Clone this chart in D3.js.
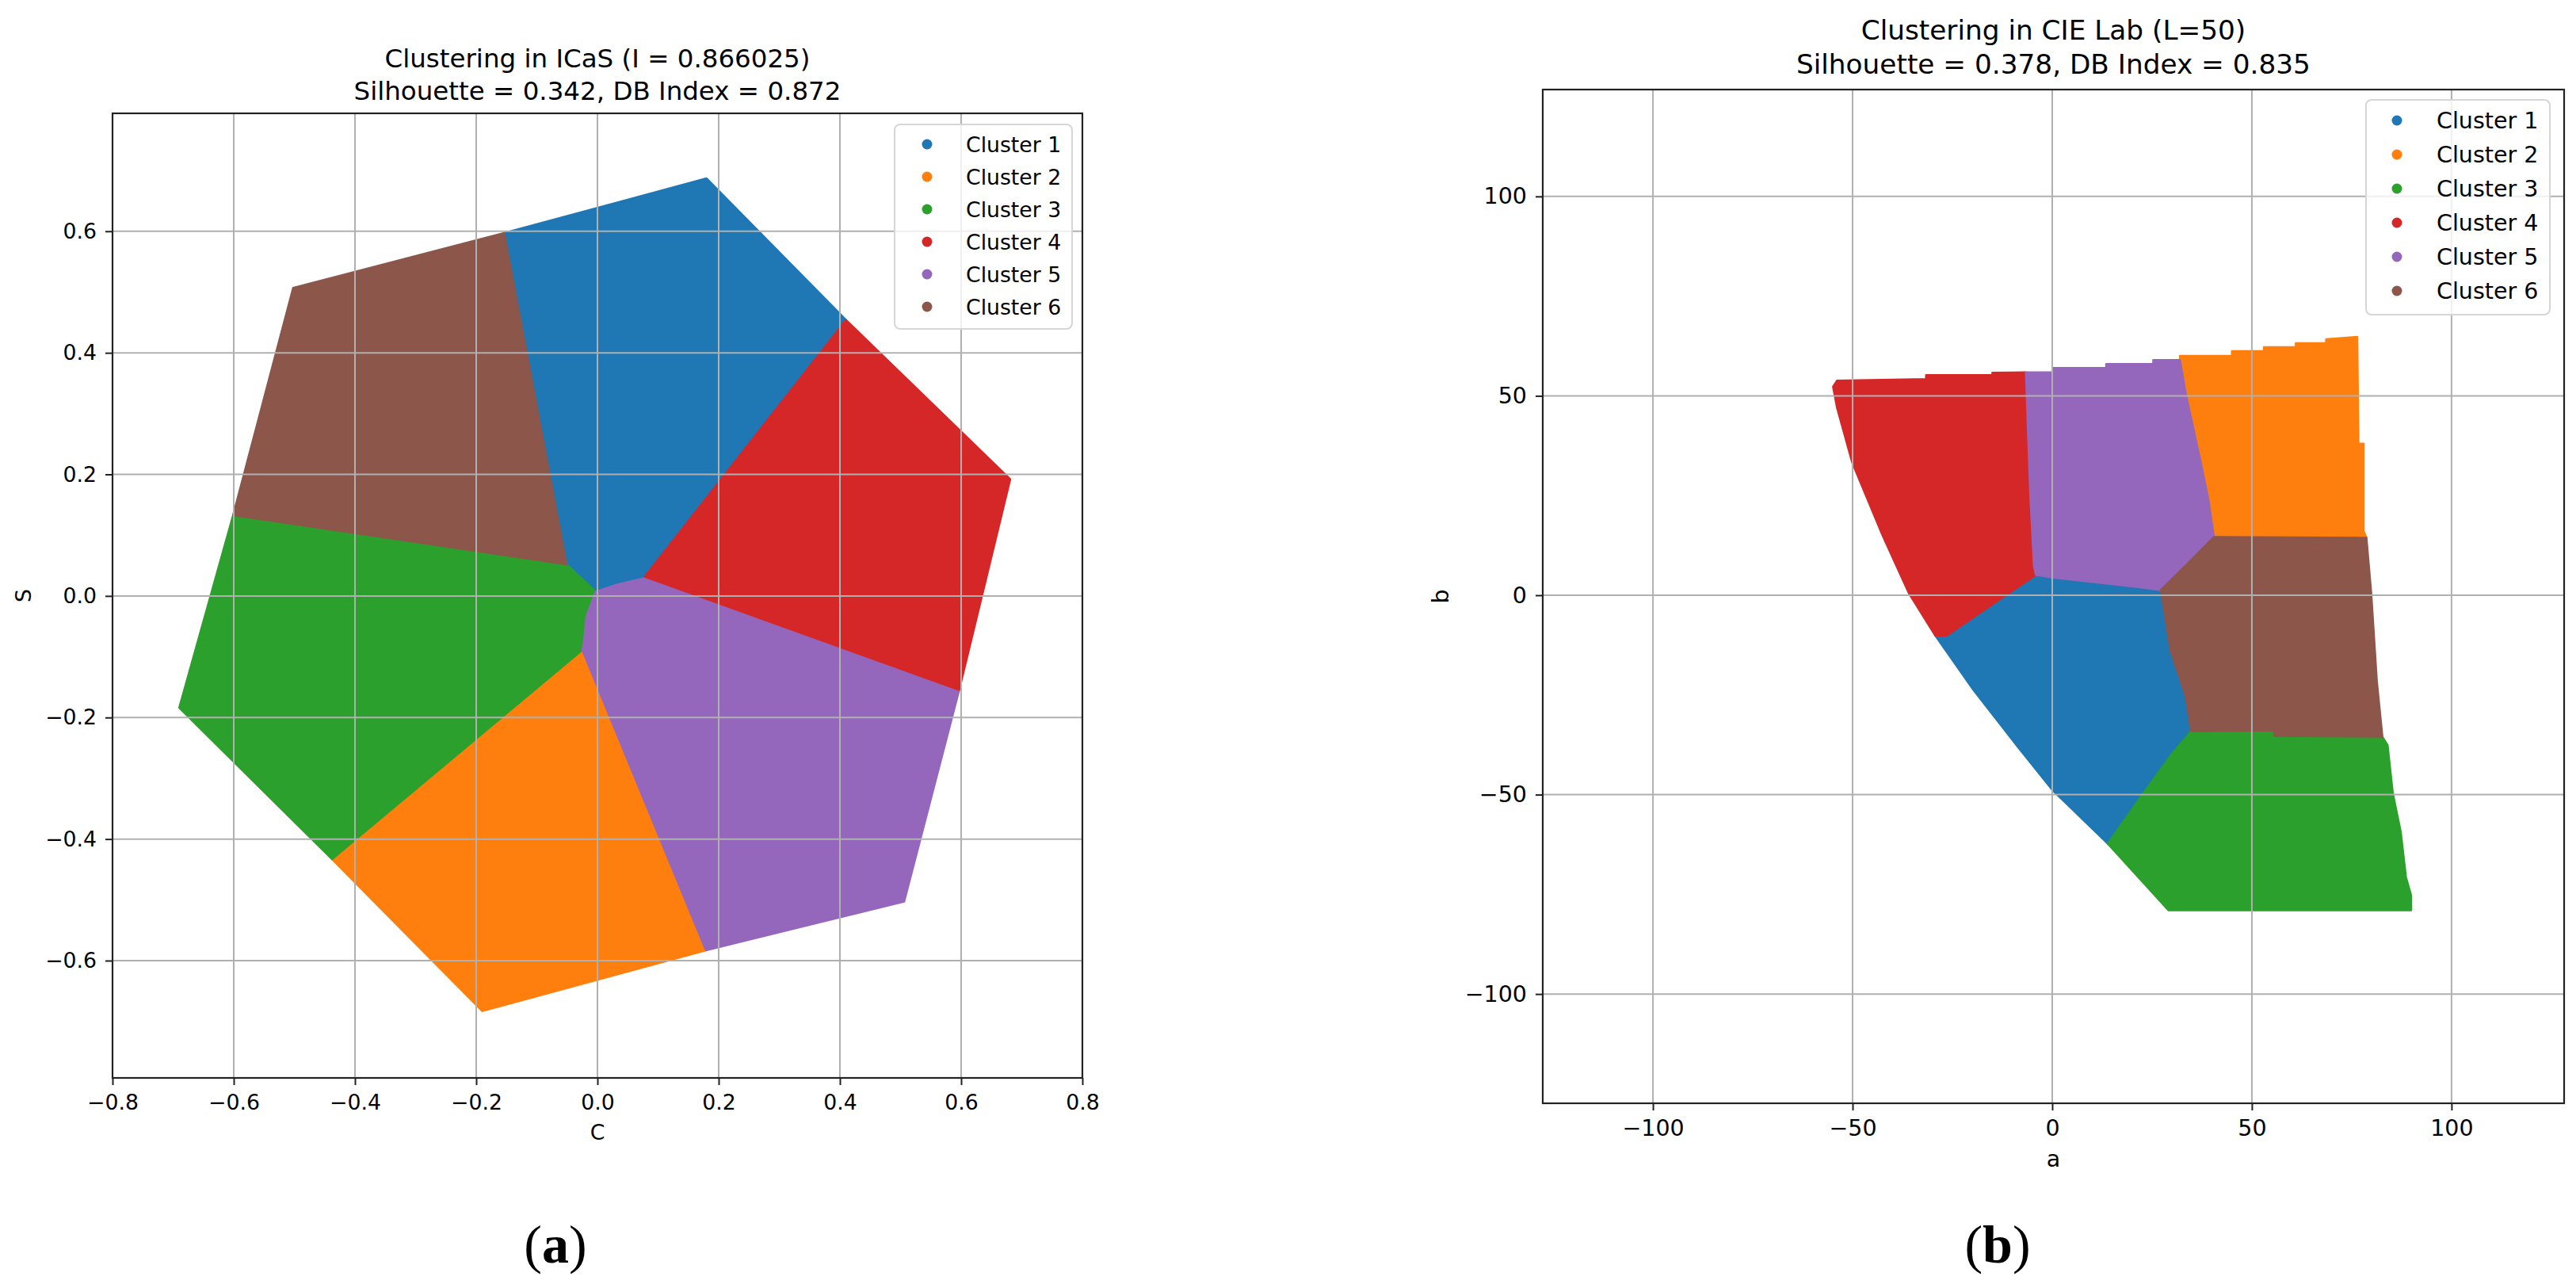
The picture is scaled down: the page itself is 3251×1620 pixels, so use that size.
<!DOCTYPE html>
<html>
<head>
<meta charset="utf-8">
<script src="https://cdn.jsdelivr.net/npm/d3@7"></script>
<style>
  body { margin: 0; background: #fff; }
  svg text { font-family: "DejaVu Sans", sans-serif; fill: #000; }
</style>
</head>
<body>
<svg id="fig" width="3251" height="1620"></svg>
<script>
// Legend / colours (matplotlib tab10)
const clusterNames = ["Cluster 1", "Cluster 2", "Cluster 3", "Cluster 4", "Cluster 5", "Cluster 6"];
const clusterColors = ["#1f77b4", "#ff7f0e", "#2ca02c", "#d62728", "#9467bd", "#8c564b"];

// (a) ICaS plane, cluster regions as [C, S] outlines
const icasCluster1 = [[0.180, 0.687], [0.410, 0.454], [0.076, 0.029], [0.030, 0.018], [-0.003, 0.007], [-0.051, 0.052], [-0.154, 0.597]];
const icasCluster2 = [[-0.025, -0.089], [0.179, -0.583], [-0.190, -0.683], [-0.438, -0.433]];
const icasCluster3 = [[-0.051, 0.052], [-0.003, 0.007], [-0.018, -0.033], [-0.022, -0.072], [-0.025, -0.089], [-0.438, -0.433], [-0.690, -0.184], [-0.601, 0.133]];
const icasCluster4 = [[0.076, 0.029], [0.410, 0.454], [0.681, 0.192], [0.596, -0.158]];
const icasCluster5 = [[-0.003, 0.007], [0.030, 0.018], [0.076, 0.029], [0.596, -0.158], [0.506, -0.503], [0.179, -0.583], [-0.025, -0.089], [-0.022, -0.072], [-0.018, -0.033]];
const icasCluster6 = [[-0.154, 0.597], [-0.051, 0.052], [-0.601, 0.133], [-0.502, 0.507]];
const icasXTicks = [-0.8, -0.6, -0.4, -0.2, 0, 0.2, 0.4, 0.6, 0.8];
const icasYTicks = [-0.6, -0.4, -0.2, 0, 0.2, 0.4, 0.6];

// (b) CIE Lab plane at L=50, cluster regions as [a, b] outlines
const labCluster1 = [[-4.1, 5.1], [0.2, 4.4], [21.1, 2.1], [27.2, 1.3], [29.6, -13.9], [33.4, -25.3], [34.8, -34.1], [30.1, -39.6], [22.5, -50.1], [13.9, -62.3], [0.0, -48.8], [-8.4, -38.3], [-19.7, -23.8], [-29.3, -10.1], [-26.4, -10.1], [-13.1, -1.0]];
const labCluster2 = [[32.0, 59.0], [32.0, 60.0], [45.0, 60.0], [45.0, 61.2], [53.0, 61.2], [53.0, 62.2], [61.0, 62.2], [61.0, 63.2], [68.6, 63.2], [68.6, 64.2], [76.4, 64.8], [76.7, 38.0], [78.0, 38.0], [78.0, 16.1], [78.7, 14.4], [40.5, 14.6], [39.1, 24.1], [37.2, 33.3], [33.4, 50.8]];
const labCluster3 = [[34.8, -34.1], [55.6, -33.9], [55.6, -35.3], [82.7, -35.5], [84.0, -37.6], [85.3, -49.6], [87.3, -59.4], [88.6, -70.7], [89.9, -75.3], [89.9, -79.0], [29.1, -79.0], [13.9, -62.3], [22.5, -50.1], [30.1, -39.6]];
const labCluster4 = [[-54.9, 52.3], [-53.9, 53.8], [-31.6, 54.2], [-31.6, 55.2], [-15.0, 55.2], [-15.0, 55.8], [-6.6, 55.9], [-5.5, 24.9], [-4.6, 7.4], [-4.1, 5.1], [-13.1, -1.0], [-26.4, -10.1], [-29.3, -10.1], [-35.9, 0.5], [-42.5, 15.0], [-50.1, 33.3], [-53.9, 47.0]];
const labCluster5 = [[-6.6, 55.9], [0.2, 55.9], [0.2, 57.0], [13.5, 57.0], [13.5, 58.0], [25.3, 58.0], [25.3, 59.0], [32.0, 59.0], [33.4, 50.8], [37.2, 33.3], [39.1, 24.1], [40.5, 14.6], [33.4, 7.4], [27.2, 1.3], [21.1, 2.1], [0.2, 4.4], [-4.1, 5.1], [-4.6, 7.4], [-5.5, 24.9]];
const labCluster6 = [[40.5, 14.6], [78.7, 14.4], [79.9, 0.5], [81.3, -21.5], [82.7, -35.5], [55.6, -35.3], [55.6, -33.9], [34.8, -34.1], [33.4, -25.3], [29.6, -13.9], [27.2, 1.3], [33.4, 7.4]];
const labXTicks = [-100, -50, 0, 50, 100];
const labYTicks = [-100, -50, 0, 50, 100];

const svg = d3.select('#fig');

function drawPanel(cfg) {
  const g = svg.append('g');
  const x = d3.scaleLinear().domain(cfg.xDomain).range([cfg.left, cfg.right]);
  const y = d3.scaleLinear().domain(cfg.yDomain).range([cfg.bottom, cfg.top]);
  const fs = cfg.fontSize;

  // Cluster regions
  const outline = d3.line()
    .x(d => x(d[0]))
    .y(d => y(d[1]))
    .curve(d3.curveLinearClosed);
  g.append('g')
    .selectAll('path')
    .data(cfg.clusters)
    .join('path')
      .attr('d', outline)
      .attr('fill', (d, i) => clusterColors[i])
      .attr('stroke', (d, i) => clusterColors[i])
      .attr('stroke-width', 2.5)
      .attr('stroke-linejoin', 'round');

  // Grid (drawn above the scatter, like matplotlib)
  const grid = g.append('g')
    .attr('stroke', '#b0b0b0')
    .attr('stroke-width', 2);
  grid.selectAll('line.gx')
    .data(cfg.xTicks)
    .join('line')
      .attr('class', 'gx')
      .attr('x1', d => x(d)).attr('x2', d => x(d))
      .attr('y1', cfg.top).attr('y2', cfg.bottom);
  grid.selectAll('line.gy')
    .data(cfg.yTicks)
    .join('line')
      .attr('class', 'gy')
      .attr('x1', cfg.left).attr('x2', cfg.right)
      .attr('y1', d => y(d)).attr('y2', d => y(d));

  // Axes
  const xAxis = g.append('g')
    .attr('transform', `translate(0,${cfg.bottom})`)
    .call(d3.axisBottom(x).tickValues(cfg.xTicks).tickFormat(cfg.format).tickSize(9).tickPadding(12));
  const yAxis = g.append('g')
    .attr('transform', `translate(${cfg.left},0)`)
    .call(d3.axisLeft(y).tickValues(cfg.yTicks).tickFormat(cfg.format).tickSize(9).tickPadding(11));
  [xAxis, yAxis].forEach(ax => {
    ax.select('.domain').remove();
    ax.selectAll('line').attr('stroke', '#222').attr('stroke-width', 2);
    ax.selectAll('text')
      .style('font-family', '"DejaVu Sans", sans-serif')
      .style('font-size', fs + 'px')
      .attr('fill', '#111');
  });

  // Spines
  g.append('rect')
    .attr('x', cfg.left).attr('y', cfg.top)
    .attr('width', cfg.right - cfg.left).attr('height', cfg.bottom - cfg.top)
    .attr('fill', 'none')
    .attr('stroke', '#222')
    .attr('stroke-width', 2.2);

  // Title
  const title = g.append('text')
    .attr('text-anchor', 'middle')
    .style('font-size', cfg.titleSize + 'px');
  cfg.title.forEach((t, i) => {
    title.append('tspan')
      .attr('x', (cfg.left + cfg.right) / 2)
      .attr('y', cfg.titleY[i])
      .text(t);
  });

  // Axis labels
  g.append('text')
    .attr('x', (cfg.left + cfg.right) / 2)
    .attr('y', cfg.xLabelY)
    .attr('text-anchor', 'middle')
    .style('font-size', fs + 'px')
    .text(cfg.xLabel);
  g.append('text')
    .attr('transform', `translate(${cfg.yLabelX},${(cfg.top + cfg.bottom) / 2}) rotate(-90)`)
    .attr('text-anchor', 'middle')
    .style('font-size', fs + 'px')
    .text(cfg.yLabel);

  // Legend
  const lg = cfg.legend;
  const legend = g.append('g');
  legend.append('rect')
    .attr('x', lg.x0).attr('y', lg.y0)
    .attr('width', lg.x1 - lg.x0).attr('height', lg.y1 - lg.y0)
    .attr('rx', 7)
    .attr('fill', '#fff').attr('fill-opacity', 0.8)
    .attr('stroke', '#d6d6d6').attr('stroke-width', 2);
  const rows = legend.selectAll('g.row')
    .data(clusterNames)
    .join('g')
      .attr('class', 'row')
      .attr('transform', (d, i) => `translate(0,${lg.firstRow + i * lg.rowStep})`);
  rows.append('circle')
    .attr('cx', lg.markerX)
    .attr('r', 6.5)
    .attr('fill', (d, i) => clusterColors[i]);
  rows.append('text')
    .attr('x', lg.textX)
    .attr('dy', '0.36em')
    .style('font-size', fs + 'px')
    .text(d => d);

  // Panel tag
  const tag = svg.append('text')
    .attr('x', cfg.tagX)
    .attr('y', cfg.tagY)
    .attr('text-anchor', 'middle')
    .style('font-family', '"Liberation Serif", "DejaVu Serif", serif')
    .style('font-size', '68px');
  tag.append('tspan').text('(');
  tag.append('tspan').style('font-weight', 'bold').text(cfg.tag);
  tag.append('tspan').text(')');
}

drawPanel({
  clusters: [icasCluster1, icasCluster2, icasCluster3, icasCluster4, icasCluster5, icasCluster6],
  xDomain: [-0.8, 0.8], yDomain: [-0.793, 0.794],
  left: 142, right: 1366, top: 143, bottom: 1360,
  xTicks: icasXTicks, yTicks: icasYTicks,
  format: d3.format('.1f'),
  fontSize: 26.7, titleSize: 32.5,
  title: ['Clustering in ICaS (I = 0.866025)', 'Silhouette = 0.342, DB Index = 0.872'],
  titleY: [85, 126],
  xLabel: 'C', xLabelY: 1438,
  yLabel: 'S', yLabelX: 39,
  legend: { x0: 1129, x1: 1353, y0: 157, y1: 415, firstRow: 182, rowStep: 41, markerX: 1170, textX: 1219 },
  tag: 'a', tagX: 701, tagY: 1593
});

drawPanel({
  clusters: [labCluster1, labCluster2, labCluster3, labCluster4, labCluster5, labCluster6],
  xDomain: [-127.6, 128.2], yDomain: [-127.4, 126.8],
  left: 1947, right: 3236, top: 113, bottom: 1392,
  xTicks: labXTicks, yTicks: labYTicks,
  format: d3.format('d'),
  fontSize: 28.5, titleSize: 34.3,
  title: ['Clustering in CIE Lab (L=50)', 'Silhouette = 0.378, DB Index = 0.835'],
  titleY: [50, 93],
  xLabel: 'a', xLabelY: 1472,
  yLabel: 'b', yLabelX: 1828,
  legend: { x0: 2986, x1: 3218, y0: 126, y1: 397, firstRow: 152, rowStep: 43, markerX: 3025, textX: 3075 },
  tag: 'b', tagX: 2521, tagY: 1593
});
</script>
</body>
</html>
